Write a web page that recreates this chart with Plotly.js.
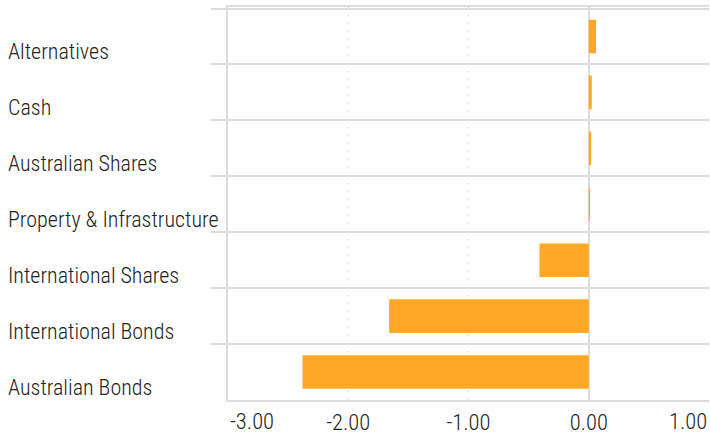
<!DOCTYPE html>
<html>
<head>
<meta charset="utf-8">
<script src="https://cdn.plot.ly/plotly-3.0.1.min.js"></script>
<style>html,body{margin:0;padding:0;background:#fff;}#chart{width:710px;height:436px;}</style>
</head>
<body>
<div id="chart"></div>
<script>
const categories = ["Alternatives", "Cash", "Australian Shares", "Property & Infrastructure", "International Shares", "International Bonds", "Australian Bonds"];
const values = [0.06, 0.025, 0.02, 0.01, -0.41, -1.66, -2.38];
const tickValues = [-3, -2, -1, 0, 1];
const tickLabels = ["-3.00", "-2.00", "-1.00", "0.00", "1.00"];

const FONT = "'Roboto Condensed', 'Liberation Sans Narrow', 'Arial Narrow', 'DejaVu Sans Condensed', Roboto, sans-serif";
const TXT = "#222222";
const GRID = "#dddddd";
const LABEL_FONT = {family: FONT, size: 22, color: TXT, weight: 300};
const TICK_FONT = {family: FONT, size: 22.5, color: TXT, weight: 300};

const annotations = [];
categories.forEach(c => {
  annotations.push({
    text: c, xref: "paper", x: 0, xshift: -222, xanchor: "left",
    yref: "y", y: c, yanchor: "middle", yshift: -15, showarrow: false,
    font: LABEL_FONT
  });
});
// end tick labels kept inside the plot width
annotations.push({text: tickLabels[0], xref: "x", x: tickValues[0], xanchor: "left", yref: "paper", y: 0, yanchor: "top", yshift: -6, showarrow: false, font: TICK_FONT});
annotations.push({text: tickLabels[tickLabels.length - 1], xref: "x", x: tickValues[tickValues.length - 1], xanchor: "right", yref: "paper", y: 0, yanchor: "top", yshift: -6, showarrow: false, font: TICK_FONT});

const data = [{
  type: "bar", orientation: "h",
  x: values, y: categories,
  marker: {color: "#FFA726"},
  hoverinfo: "none"
}];

const layout = {
  width: 710, height: 436,
  margin: {l: 228, r: 1, t: 7, b: 36, pad: 0},
  paper_bgcolor: "#ffffff", plot_bgcolor: "#ffffff",
  showlegend: false,
  bargap: 0.4,
  font: LABEL_FONT,
  xaxis: {
    range: [-3, 1],
    tickvals: tickValues.slice(1, -1),
    ticktext: tickLabels.slice(1, -1),
    tickfont: TICK_FONT, ticklabelstandoff: 1,
    showgrid: true, gridcolor: "#c4c4c4", gridwidth: 1, griddash: "1px,7px",
    zeroline: true, zerolinecolor: GRID, zerolinewidth: 2,
    showline: true, mirror: true, linecolor: GRID, linewidth: 2,
    ticks: "", fixedrange: true
  },
  yaxis: {
    type: "category", autorange: "reversed",
    tickson: "boundaries", ticks: "outside", ticklen: 15, tickwidth: 2, tickcolor: GRID,
    showgrid: true, gridcolor: GRID, gridwidth: 2,
    showticklabels: false,
    showline: true, linecolor: GRID, linewidth: 2,
    zeroline: false, fixedrange: true
  },
  annotations: annotations
};

Plotly.newPlot("chart", data, layout, {displayModeBar: false, staticPlot: true});
</script>
</body>
</html>
